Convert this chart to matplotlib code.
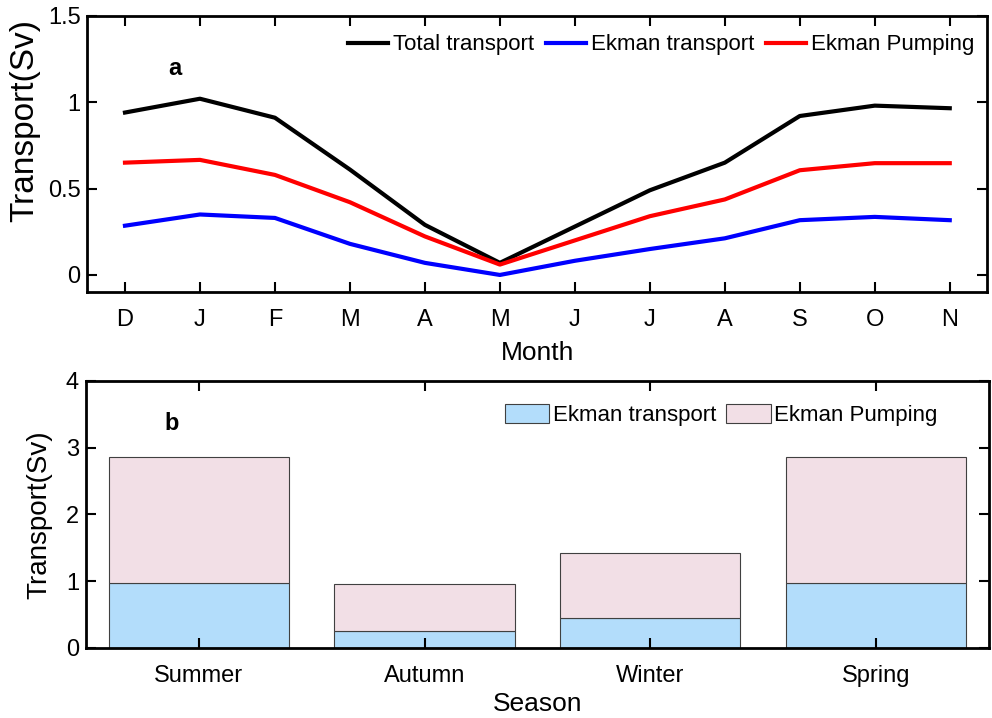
import matplotlib
matplotlib.use('Agg')
import matplotlib.pyplot as plt
import numpy as np

plt.rcParams['font.family'] = ['Liberation Sans', 'DejaVu Sans']

# monthly transport (Sv), Dec .. Nov
months = ['D', 'J', 'F', 'M', 'A', 'M', 'J', 'J', 'A', 'S', 'O', 'N']
total = [0.94, 1.02, 0.91, 0.61, 0.29, 0.07, 0.28, 0.49, 0.65, 0.92, 0.98, 0.965]
ekman = [0.285, 0.35, 0.33, 0.18, 0.07, 0.0, 0.082, 0.15, 0.212, 0.317, 0.336, 0.317]
pumping = [0.65, 0.666, 0.579, 0.421, 0.223, 0.06, 0.2, 0.34, 0.437, 0.606, 0.647, 0.647]

# seasonal (Sv)
seasons = ['Summer', 'Autumn', 'Winter', 'Spring']
season_ekman = [0.97, 0.255, 0.45, 0.97]
season_pumping = [1.89, 0.705, 0.97, 1.89]

fig = plt.figure(figsize=(9.92, 7.18), dpi=100)
ax1 = fig.add_axes([0.0882, 0.593, 0.907, 0.385])
ax2 = fig.add_axes([0.0867, 0.0975, 0.91, 0.372])

# panel a
x = np.arange(1, len(months) + 1)
ax1.plot(x, total, color='black', lw=3, label='Total transport')
ax1.plot(x, ekman, color='blue', lw=3, label='Ekman transport')
ax1.plot(x, pumping, color='red', lw=3, label='Ekman Pumping')
ax1.set_xlim(0.5, 12.5)
ax1.set_ylim(-0.1, 1.5)
ax1.set_xticks(x)
ax1.set_xticklabels(months)
ax1.set_yticks([0, 0.5, 1, 1.5])
ax1.set_yticklabels(['0', '0.5', '1', '1.5'])
ax1.set_xlabel('Month', fontsize=19, labelpad=7)
ax1.set_ylabel('Transport(Sv)', fontsize=24)
ax1.yaxis.set_label_coords(-0.053, 0.62)
ax1.text(0.097, 0.81, 'a', transform=ax1.transAxes, fontsize=17,
         fontweight='bold', ha='center', va='center')
ax1.legend(loc='center right', ncol=3, frameon=False, fontsize=16,
           handlelength=1.8, handletextpad=0.25, columnspacing=0.5,
           borderaxespad=0, borderpad=0, bbox_to_anchor=(0.986, 0.895))

# panel b
xs = np.arange(1, len(seasons) + 1)
ax2.bar(xs, season_ekman, width=0.8, color='#b3ddfb', edgecolor='#404040',
        lw=0.8, label='Ekman transport')
ax2.bar(xs, season_pumping, width=0.8, bottom=season_ekman, color='#f2dfe6',
        edgecolor='#404040', lw=0.8, label='Ekman Pumping')
ax2.set_xlim(0.5, 4.5)
ax2.set_ylim(0, 4)
ax2.set_xticks(xs)
ax2.set_xticklabels(seasons)
ax2.set_yticks([0, 1, 2, 3, 4])
ax2.set_xlabel('Season', fontsize=19, labelpad=4)
ax2.set_ylabel('Transport(Sv)', fontsize=20)
ax2.yaxis.set_label_coords(-0.037, 0.5)
ax2.text(0.095, 0.84, 'b', transform=ax2.transAxes, fontsize=17,
         fontweight='bold', ha='center', va='center')
ax2.legend(loc='center right', ncol=2, frameon=False, fontsize=16,
           handlelength=2.0, handleheight=1.0, handletextpad=0.15,
           columnspacing=0.45, borderaxespad=0, borderpad=0,
           bbox_to_anchor=(0.943, 0.873))

for ax in (ax1, ax2):
    ax.tick_params(direction='in', top=True, right=True, length=7,
                   width=1.5, labelsize=17)
    ax.tick_params(axis='x', pad=12)
    ax.tick_params(axis='y', pad=5)
    for s in ax.spines.values():
        s.set_linewidth(2)

fig.savefig('out.png', dpi=100)
